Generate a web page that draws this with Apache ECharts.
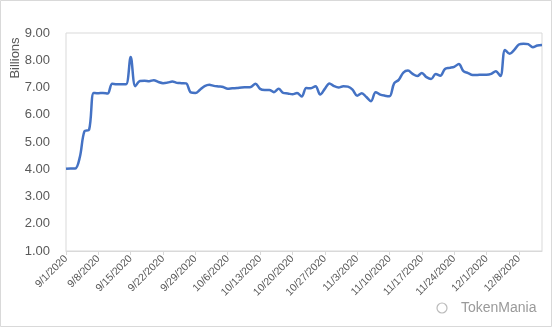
<!DOCTYPE html>
<html>
<head>
<meta charset="utf-8">
<script src="https://cdn.jsdelivr.net/npm/echarts@6/dist/echarts.min.js"></script>
<style>
html,body{margin:0;padding:0;background:#fff;}
#c{width:553px;height:329px;}
</style>
</head>
<body>
<div id="c"></div>
<script>
// Start date and number of daily categories (9/1/2020 .. 12/13/2020)
var startDate = [2020, 8, 1];
var dayCount = 104;
var categories = [];
for (var i = 0; i < dayCount; i++) {
  var d = new Date(startDate[0], startDate[1], startDate[2] + i);
  categories.push((d.getMonth() + 1) + '/' + d.getDate() + '/' + d.getFullYear());
}

// Values in billions
var values = [
  4.02, 4.03, 4.03, 4.45, 5.40, 5.45, 6.80, 6.79, 6.80, 6.78,
  7.14, 7.12, 7.12, 7.12, 8.12, 7.05, 7.24, 7.25, 7.23, 7.27,
  7.20, 7.16, 7.18, 7.22, 7.17, 7.16, 7.15, 6.82, 6.80, 6.92,
  7.05, 7.10, 7.06, 7.04, 7.02, 6.95, 6.97, 6.98, 7.00, 7.01,
  7.02, 7.14, 6.95, 6.91, 6.91, 6.83, 6.95, 6.80, 6.78, 6.75,
  6.80, 6.67, 6.98, 6.97, 7.05, 6.74, 6.95, 7.15, 7.05, 7.00,
  7.05, 7.03, 6.92, 6.70, 6.79, 6.65, 6.50, 6.83, 6.74, 6.70,
  6.68, 7.15, 7.28, 7.55, 7.62, 7.50, 7.42, 7.53, 7.38, 7.31,
  7.50, 7.43, 7.68, 7.72, 7.76, 7.86, 7.60, 7.53, 7.46, 7.46,
  7.47, 7.47, 7.50, 7.60, 7.42, 8.38, 8.24, 8.38, 8.58, 8.61,
  8.59, 8.48, 8.54, 8.56
];

var yMin = 1, yMax = 9, yStep = 1;
var yTitle = 'Billions';
var watermark = 'TokenMania';

var chart = echarts.init(document.getElementById('c'), null, {renderer: 'canvas'});
chart.setOption({
  animation: false,
  backgroundColor: '#fff',
  grid: {left: 66, top: 33, right: 11, bottom: 78, show: true, borderColor: '#D9D9D9', borderWidth: 1},
  xAxis: {
    type: 'category',
    data: categories,
    boundaryGap: false,
    axisLine: {show: true, lineStyle: {color: '#D9D9D9', width: 1}},
    axisTick: {show: true, interval: 6, length: 4, lineStyle: {color: '#D9D9D9'}},
    axisLabel: {interval: 6, rotate: 45, color: '#595959', fontSize: 10.5, fontFamily: 'Liberation Sans, Arial, sans-serif', margin: 6},
    splitLine: {show: false}
  },
  yAxis: {
    type: 'value',
    min: yMin, max: yMax, interval: yStep,
    axisLine: {show: false},
    axisTick: {show: false},
    splitLine: {show: false},
    axisLabel: {color: '#595959', fontSize: 13, fontFamily: 'Liberation Sans, Arial, sans-serif', margin: 16,
      formatter: function (v) { return v.toFixed(2); }}
  },
  series: [{
    type: 'line',
    data: values,
    smooth: 0.35,
    showSymbol: false,
    lineStyle: {color: '#4472C4', width: 2.5},
    itemStyle: {color: '#4472C4'}
  }],
  graphic: [
    {type: 'rect', shape: {x: 0.5, y: 0.5, width: 551, height: 326}, style: {fill: null, stroke: '#D9D9D9', lineWidth: 1}, silent: true, z: -1},
    {type: 'text', x: 15, y: 58, rotation: Math.PI / 2,
      style: {text: yTitle, fill: '#595959', fontSize: 13, fontFamily: 'Liberation Sans, Arial, sans-serif', textAlign: 'center', textVerticalAlign: 'middle'}},
    {type: 'circle', shape: {cx: 442, cy: 308, r: 5}, style: {fill: null, stroke: '#BBBBBB', lineWidth: 1.2}},
    {type: 'text', x: 461, y: 308,
      style: {text: watermark, fill: '#9A9A9A', fontSize: 14, fontFamily: 'Liberation Sans, Arial, sans-serif', textAlign: 'left', textVerticalAlign: 'middle'}}
  ]
});
</script>
</body>
</html>
